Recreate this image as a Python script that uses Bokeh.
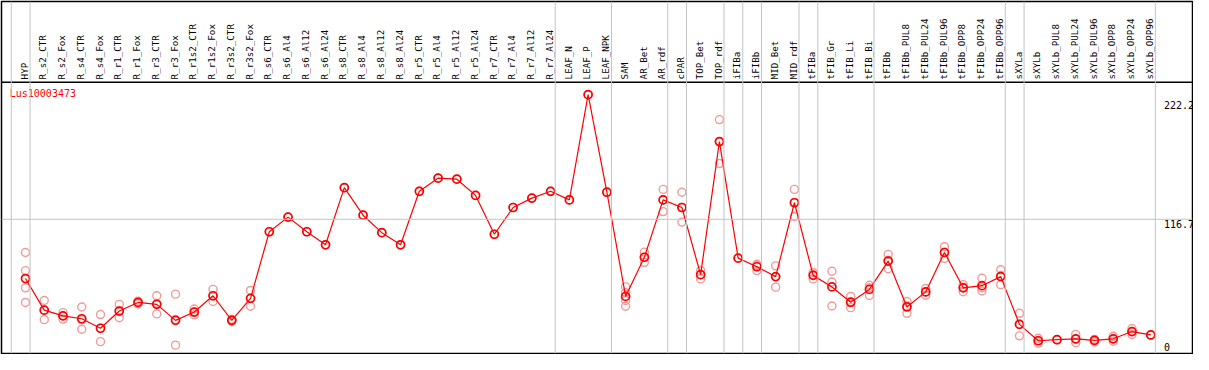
import math
from bokeh.plotting import figure
from bokeh.models import Range1d, Span
from bokeh.embed import file_html
from bokeh.resources import INLINE
from bokeh.core.properties import value

gene = "Lus10003473"

categories = [
    "HYP", "R_s2_CTR", "R_s2_Fox", "R_s4_CTR", "R_s4_Fox", "R_r1_CTR", "R_r1_Fox",
    "R_r3_CTR", "R_r3_Fox", "R_r1s2_CTR", "R_r1s2_Fox", "R_r3s2_CTR", "R_r3s2_Fox",
    "R_s6_CTR", "R_s6_Al4", "R_s6_Al12", "R_s6_Al24", "R_s8_CTR", "R_s8_Al4",
    "R_s8_Al12", "R_s8_Al24", "R_r5_CTR", "R_r5_Al4", "R_r5_Al12", "R_r5_Al24",
    "R_r7_CTR", "R_r7_Al4", "R_r7_Al12", "R_r7_Al24", "LEAF_N", "LEAF_P", "LEAF_NPK",
    "SAM", "AR_Bet", "AR_rdf", "cPAR", "TOP_Bet", "TOP_rdf", "iFIBa", "iFIBb",
    "MID_Bet", "MID_rdf", "tFIBa", "tFIB_Gr", "tFIB_Li", "tFIB_Bi", "tFIBb",
    "tFIBb_PUL8", "tFIBb_PUL24", "tFIBb_PUL96", "tFIBb_OPP8", "tFIBb_OPP24",
    "tFIBb_OPP96", "sXYLa", "sXYLb", "sXYLb_PUL8", "sXYLb_PUL24", "sXYLb_PUL96",
    "sXYLb_OPP8", "sXYLb_OPP24", "sXYLb_OPP96",
]

means = [
    64.4, 36.5, 31.5, 28.9, 20.5, 35.7, 43.3, 41.6, 27.5, 34.8, 49.2, 27.5, 46.9,
    105.7, 118.6, 105.7, 94.2, 144.6, 120.3, 104.9, 94.2, 141.4, 153.0, 152.1, 137.8,
    103.5, 127.1, 135.4, 141.4, 133.8, 226.7, 140.6,
    48.6, 83.2, 133.8, 127.1, 67.8, 185.3, 82.4, 74.8, 66.1, 131.3, 67.2, 57.0,
    43.5, 54.8, 79.8, 39.3, 52.6, 87.4, 56.2, 58.1, 66.1, 23.9, 9.5, 10.4, 11.2,
    9.8, 11.2, 17.6, 14.6,
]

replicates = [
    [87.4, 71.4, 56.2, 43.3], [45.0, 36.5, 28.1], [34.3, 31.5, 28.6],
    [39.3, 28.0, 19.6], [32.6, 20.5, 8.7], [41.6, 35.7, 29.8], [44.5, 43.3, 42.1],
    [49.2, 42.4, 33.2], [50.6, 28.1, 5.6], [37.5, 34.8, 32.3], [54.8, 49.0, 44.1],
    [28.5, 27.5, 26.5], [53.9, 46.9, 39.9],
    [105.7], [118.6], [105.7], [94.2], [144.6], [120.3], [104.9], [94.2], [141.4],
    [153.0], [152.1], [137.8], [103.5], [127.1], [135.4], [141.4], [133.8],
    [226.7], [140.6],
    [57.0, 52.0, 45.0, 39.9], [87.7, 83.2, 78.7], [143.1, 133.8, 123.5],
    [140.6, 127.1, 114.2], [71.4, 67.8, 64.1], [204.7, 185.3, 165.9], [82.4],
    [77.0, 75.9, 71.4], [75.6, 65.9, 56.8], [143.1, 131.6, 119.2],
    [69.7, 67.8, 64.1], [70.8, 61.3, 40.2], [48.6, 43.2, 38.7], [58.5, 56.4, 49.5],
    [85.7, 80.6, 73.1], [44.1, 40.1, 33.7], [55.6, 52.5, 49.7], [92.5, 87.6, 82.1],
    [59.0, 56.8, 52.8], [64.6, 56.3, 53.4], [72.2, 67.1, 59.0], [33.7, 24.2, 13.8],
    [11.7, 9.5, 7.3], [10.4], [15.1, 10.7, 7.8], [10.6, 10.4, 8.4],
    [13.4, 11.2, 9.0], [20.2, 17.6, 15.0], [14.6],
]

tick_values = [0, 116.7, 222.2]
tick_labels = ["0", "116.7", "222.2"]

# index of the last category of each group (a grey rule is drawn after it)
group_last = [-1, 0, 28, 31, 34, 35, 37, 38, 39, 41, 42, 45, 52, 53, 60]

idx = list(range(len(categories)))
rep_x = [i for i, r in zip(idx, replicates) for _ in r]
rep_y = [v for r in replicates for v in r]

FONT = value("DejaVu Sans Mono")
GREY = "#c4c4c4"

p = figure(width=1193, height=354, output_backend="svg", toolbar_location=None,
           x_range=Range1d(-1.279, 62.226), y_range=Range1d(-1.77, 308.95),
           x_axis_location=None, y_axis_location=None,
           min_border_left=1, min_border_right=1, min_border_top=1, min_border_bottom=1)
p.grid.visible = False
p.outline_line_color = "black"
p.outline_line_width = 1.5
p.background_fill_color = "white"
p.border_fill_color = "white"

# header separator line
p.add_layout(Span(location=237.6, dimension="width", line_color="black", line_width=1.5))
# group rules
for k in group_last:
    p.add_layout(Span(location=k + 0.245, dimension="height", line_color=GREY, line_width=1))
# mid gridline
p.add_layout(Span(location=tick_values[1], dimension="width", line_color=GREY, line_width=1))

# header labels
p.text(x=[i - 0.07 for i in idx], y=240.2, text=categories, angle=math.pi / 2,
       text_align="left", text_baseline="middle", text_font=FONT,
       text_font_size="9.2px", text_color="black")

# value labels
p.text(x=60.7, y=tick_values[1:], text=tick_labels[1:], text_align="left",
       text_baseline="top", y_offset=1, text_font=FONT, text_font_size="10px",
       text_color="black")
p.text(x=60.7, y=tick_values[:1], text=tick_labels[:1], text_align="left",
       text_baseline="bottom", text_font=FONT, text_font_size="10px",
       text_color="black")

# gene name
p.text(x=-0.84, y=227.8, text=[gene], text_align="left", text_baseline="middle",
       text_font=FONT, text_font_size="10px", text_color="red")

# replicates
p.scatter(x=rep_x, y=rep_y, marker="circle", size=8, fill_color=None,
          line_color="#f09a9a", line_width=1.4)
# mean line + markers
p.line(x=idx, y=means, line_color="red", line_width=1.2)
p.scatter(x=idx, y=means, marker="circle", size=8, fill_color=None,
          line_color="red", line_width=1.7)

open("out.html", "w").write(file_html(p, INLINE))
